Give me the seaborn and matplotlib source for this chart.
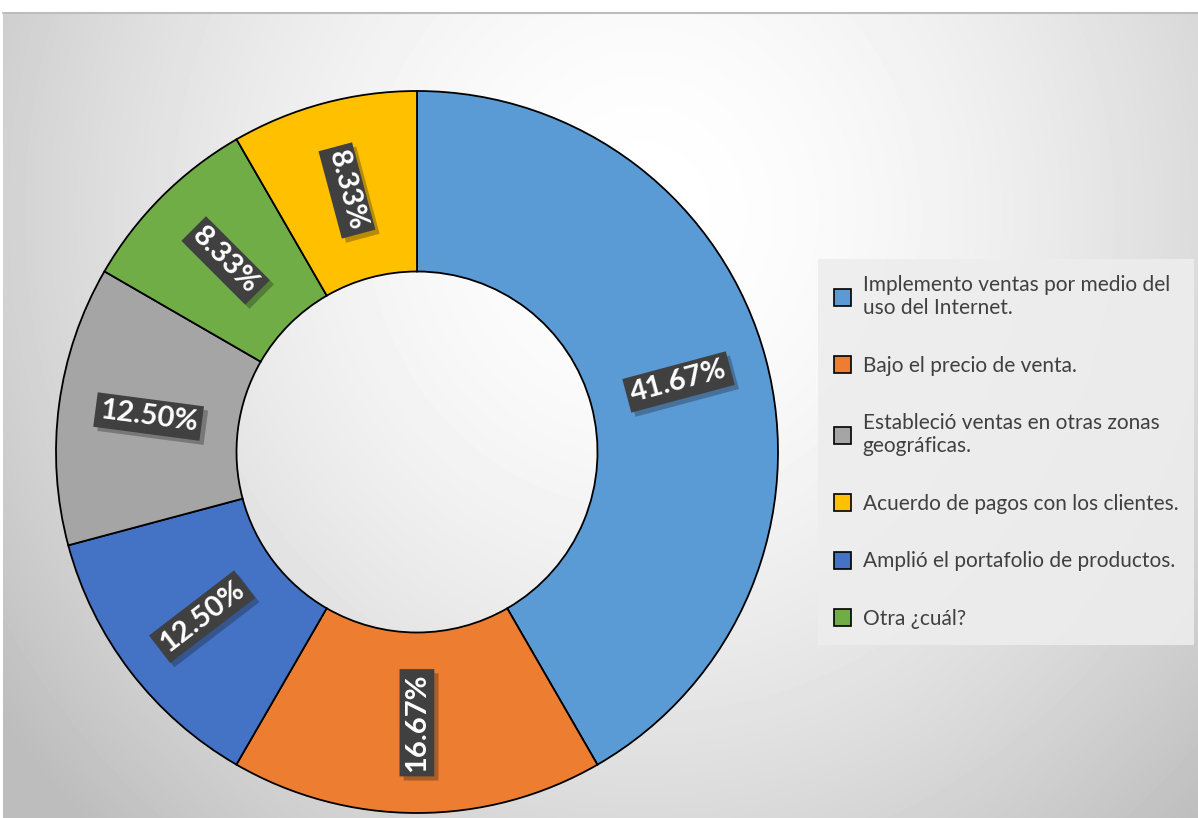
import numpy as np
import matplotlib
matplotlib.use('Agg')
import matplotlib.pyplot as plt
import matplotlib.patches as mpatches
import matplotlib.patheffects as pe
import seaborn as sns

# datos del gráfico (orden del anillo, sentido horario desde arriba)
categorias = ['Implemento ventas por medio del\nuso del Internet.',
              'Bajo el precio de venta.',
              'Amplió el portafolio de productos.',
              'Estableció ventas en otras zonas\ngeográficas.',
              'Otra ¿cuál?',
              'Acuerdo de pagos con los clientes.']
porcentajes = [41.67, 16.67, 12.50, 12.50, 8.33, 8.33]
colores = ['#5B9BD5', '#ED7D31', '#4472C4', '#A5A5A5', '#70AD47', '#FFC000']
# orden de la leyenda
orden_leyenda = [0, 1, 3, 5, 2, 4]

sns.set_theme(style='white')
plt.rcParams['font.family'] = ['Lato', 'DejaVu Sans']

W, H = 1198, 818
fig = plt.figure(figsize=(W / 100, H / 100), dpi=100)

# fondo con degradado radial (área del gráfico)
bg = fig.add_axes([3 / W, 0, 1 - 3 / W, 1 - 13 / H])
yy, xx = np.mgrid[0:805, 0:1195]
d = np.sqrt(((xx - 640) / 800.0) ** 2 + ((yy - 200) / 850.0) ** 2)
val = np.clip(1.0 - 0.26 * d ** 1.7, 0.74, 1.0)
bg.imshow(val, cmap='gray', vmin=0, vmax=1, aspect='auto', interpolation='bilinear')
bg.set_axis_off()
fig.add_artist(plt.Line2D([3 / W, 1], [1 - 13 / H, 1 - 13 / H], color='#bdbdbd', lw=1.5,
                          transform=fig.transFigure))

# anillo
cx, cy, r = 417, 452, 361
ax = fig.add_axes([(cx - r) / W, (H - cy - r) / H, 2 * r / W, 2 * r / H])
wedges, _ = ax.pie(porcentajes, colors=sns.color_palette(colores), startangle=90,
                   counterclock=False,
                   wedgeprops=dict(width=0.5, edgecolor='black', linewidth=1.3))
ax.set_xlim(-1, 1)
ax.set_ylim(-1, 1)
ax.set_aspect('equal')
ax.set_axis_off()

# etiquetas de porcentaje giradas
for w, p in zip(wedges, porcentajes):
    ang = (w.theta1 + w.theta2) / 2.0
    x = 0.75 * np.cos(np.radians(ang))
    y = 0.75 * np.sin(np.radians(ang))
    rot = ang
    while rot > 90:
        rot -= 180
    while rot < -90:
        rot += 180
    t = ax.text(x, y, f'{p:.2f}%', ha='center', va='center', rotation=rot,
                rotation_mode='anchor', color='white', fontsize=21, fontweight='bold',
                bbox=dict(boxstyle='square,pad=0.15', fc='#404040', ec='none'))
    t.get_bbox_patch().set_path_effects([pe.SimplePatchShadow(offset=(3, -3), alpha=0.3),
                                         pe.Normal()])

# leyenda
handles = [mpatches.Patch(facecolor=colores[i], edgecolor='black', linewidth=1.2)
           for i in orden_leyenda]
labels = [categorias[i] for i in orden_leyenda]
leg = fig.legend(handles, labels, loc='center left', bbox_to_anchor=(818 / W, 1 - 452 / H),
                 fontsize=15, labelspacing=1.8, handlelength=0.85, handleheight=0.85,
                 handletextpad=0.55, borderpad=0.75, borderaxespad=0, frameon=True,
                 fancybox=False)
leg.get_frame().set_facecolor('#ededed')
leg.get_frame().set_edgecolor('none')
leg.get_frame().set_alpha(0.9)
for txt in leg.get_texts():
    txt.set_color('#404040')

fig.savefig('out.png', dpi=100)
